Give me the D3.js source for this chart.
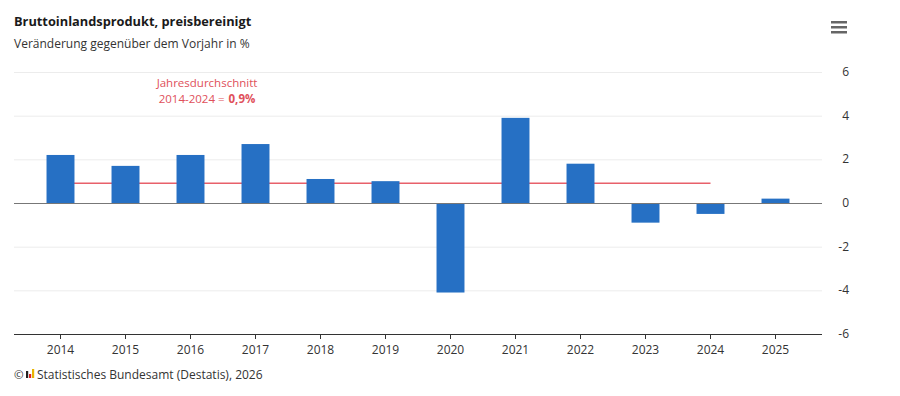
<!DOCTYPE html>
<html>
<head>
<meta charset="utf-8">
<script src="https://cdn.jsdelivr.net/npm/d3@7"></script>
<style>
  body { margin: 0; background: #fff; font-family: "Open Sans", "Noto Sans", sans-serif; }
  svg text { font-family: "Open Sans", "Noto Sans", sans-serif; }
</style>
</head>
<body>
<svg id="chart" width="900" height="396"></svg>
<script>
// Data
const years = ["2014", "2015", "2016", "2017", "2018", "2019", "2020", "2021", "2022", "2023", "2024", "2025"];
const growth = [2.2, 1.7, 2.2, 2.7, 1.1, 1.0, -4.1, 3.9, 1.8, -0.9, -0.5, 0.2];
const averageValue = 0.9;
const averageRange = ["2014", "2024"];
const yTicks = [-6, -4, -2, 0, 2, 4, 6];

const svg = d3.select("#chart");

// Scales
const x = d3.scaleBand()
  .domain(years)
  .range([28, 808])
  .paddingInner(0.57)
  .paddingOuter(0.285);

const y = d3.scaleLinear()
  .domain([-6, 6])
  .range([334, 72]);

const plotLeft = 14, plotRight = 822;

// Gridlines
svg.append("g")
  .selectAll("line")
  .data(yTicks.filter((t) => t !== 0 && t !== -6))
  .enter()
  .append("line")
  .attr("x1", plotLeft)
  .attr("x2", plotRight)
  .attr("y1", (d) => y(d) + 0.5)
  .attr("y2", (d) => y(d) + 0.5)
  .attr("stroke", "#ececec")
  .attr("stroke-width", 1);

// Y axis labels (right side)
svg.append("g")
  .selectAll("text")
  .data(yTicks)
  .enter()
  .append("text")
  .attr("x", 849)
  .attr("y", (d) => y(d) + 4)
  .attr("text-anchor", "end")
  .attr("font-size", 12)
  .attr("fill", "#333")
  .text((d) => d);

// Average line
svg.append("line")
  .attr("x1", x(averageRange[0]) + x.bandwidth() / 2)
  .attr("x2", x(averageRange[1]) + x.bandwidth() / 2)
  .attr("y1", y(averageValue))
  .attr("y2", y(averageValue))
  .attr("stroke", "#e8606a")
  .attr("stroke-width", 1.5);

// Bars
svg.append("g")
  .selectAll("rect")
  .data(years)
  .enter()
  .append("rect")
  .attr("x", (d) => x(d))
  .attr("width", x.bandwidth())
  .attr("y", (d, i) => y(Math.max(0, growth[i])))
  .attr("height", (d, i) => Math.abs(y(growth[i]) - y(0)))
  .attr("fill", "#2670c4");

// Zero line and bottom axis line
svg.append("line")
  .attr("x1", plotLeft).attr("x2", plotRight)
  .attr("y1", y(0) + 0.5).attr("y2", y(0) + 0.5)
  .attr("stroke", "#777").attr("stroke-width", 1);

svg.append("line")
  .attr("x1", plotLeft).attr("x2", plotRight)
  .attr("y1", y(-6) + 0.5).attr("y2", y(-6) + 0.5)
  .attr("stroke", "#333").attr("stroke-width", 1);

// X axis ticks and labels
const xAxis = svg.append("g");
xAxis.selectAll("line")
  .data(years)
  .enter()
  .append("line")
  .attr("x1", (d) => x(d) + x.bandwidth() / 2)
  .attr("x2", (d) => x(d) + x.bandwidth() / 2)
  .attr("y1", y(-6))
  .attr("y2", y(-6) + 5)
  .attr("stroke", "#333");

xAxis.selectAll("text")
  .data(years)
  .enter()
  .append("text")
  .attr("x", (d) => x(d) + x.bandwidth() / 2)
  .attr("y", 354)
  .attr("text-anchor", "middle")
  .attr("font-size", 12)
  .attr("fill", "#333")
  .text((d) => d);

// Annotation
const annoX = 207;
svg.append("text")
  .attr("x", annoX).attr("y", 87)
  .attr("text-anchor", "middle")
  .attr("font-size", 11.5)
  .attr("fill", "#e0505a")
  .text("Jahresdurchschnitt");

// second line: normal part + bold value, centred together
const partA = svg.append("text")
  .attr("y", 103)
  .attr("font-size", 11.5)
  .attr("fill", "#e0505a")
  .text(averageRange[0] + "-" + averageRange[1] + " =");
const partB = svg.append("text")
  .attr("y", 103)
  .attr("font-size", 11.5)
  .attr("font-weight", "bold")
  .attr("fill", "#e0505a")
  .text("0,9%");
const wA = partA.node().getComputedTextLength() + 4;
const wB = partB.node().getComputedTextLength();
const startX = annoX - (wA + wB) / 2;
partA.attr("x", startX);
partB.attr("x", startX + wA);

// Title and subtitle
svg.append("text")
  .attr("x", 14).attr("y", 26)
  .attr("font-size", 12.8)
  .attr("font-weight", "bold")
  .attr("fill", "#1a1a1a")
  .text("Bruttoinlandsprodukt, preisbereinigt");

svg.append("text")
  .attr("x", 14).attr("y", 48)
  .attr("font-size", 12)
  .attr("fill", "#333")
  .text("Veränderung gegenüber dem Vorjahr in %");

// Menu icon
svg.append("g")
  .selectAll("rect")
  .data([0, 1, 2])
  .enter()
  .append("rect")
  .attr("x", 831)
  .attr("y", (d) => 21 + d * 5)
  .attr("width", 16)
  .attr("height", 2.5)
  .attr("fill", "#666");

// Footer with logo
const footer = svg.append("g");
footer.append("text")
  .attr("x", 14).attr("y", 379)
  .attr("font-size", 11.5)
  .attr("fill", "#333")
  .text("©");
const logoColors = ["#222", "#d22", "#e8b400"];
footer.selectAll("rect.logo")
  .data([[0, 7], [1, 4], [2, 9]])
  .enter()
  .append("rect")
  .attr("class", "logo")
  .attr("x", (d) => 26 + d[0] * 3)
  .attr("y", (d) => 378 - d[1])
  .attr("width", 2.2)
  .attr("height", (d) => d[1])
  .attr("fill", (d, i) => logoColors[i]);
footer.append("text")
  .attr("x", 37).attr("y", 379)
  .attr("font-size", 12)
  .attr("fill", "#333")
  .text("Statistisches Bundesamt (Destatis), 2026");
</script>
</body>
</html>
